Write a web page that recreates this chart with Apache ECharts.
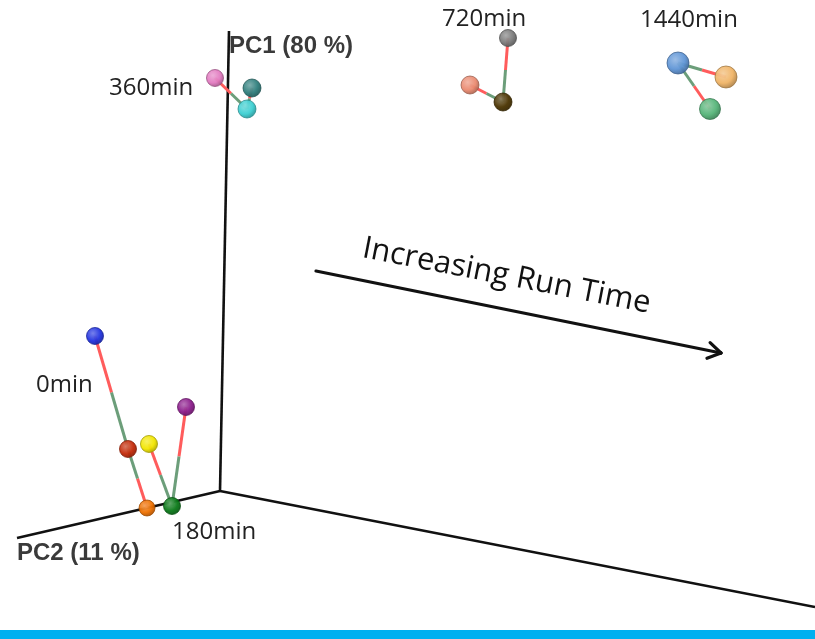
<!DOCTYPE html>
<html>
<head>
<meta charset="utf-8">
<script src="https://cdn.jsdelivr.net/npm/echarts@6/dist/echarts.min.js"></script>
<style>
html,body{margin:0;padding:0;background:#fff;}
#chart{width:815px;height:639px;}
</style>
</head>
<body>
<div id="chart"></div>
<script>
// ---- data (projected PCoA positions) ----
const sampleNames = ['0min-1','0min-2','180min-3','180min-4','180min-5','180min-6',
  '360min-1','360min-2','360min-3','720min-1','720min-2','720min-3','1440min-1','1440min-2','1440min-3'];
const sampleX = [95,128,149,186,147,172,215,252,247,508,470,503,678,726,710];
const sampleY = [336,449,444,407,508,506,78,88,109,38,85,102,63,77,109];
const sampleSize = [17,17,17,17,16,17,17,18,18,17,18,18,22,22,21];
// links: [red end, green end]
const links = [[0,1],[4,1],[2,5],[3,5],[6,8],[7,8],[9,11],[10,11],[13,12],[14,12]];
const groupLabels = ['0min','180min','360min','720min','1440min'];
const axisNames = ['PC1 (80 %)','PC2 (11 %)'];
const axisOrigin = [220,491];
const axisEnds = [[229,31],[17,538],[815,607]];
const arrowPath = [[316,271],[721,353]];
const arrowText = 'Increasing Run Time';

const colors = ['#2233e0','#c42a08','#f2e600','#8c1c8c','#ee7000','#0a7a18',
  '#e27ac0','#2e7e7c','#3ccfd2','#7a7a7a','#ea8a70','#4a3300','#5f95d6','#f0b466','#55b478'];

function lighten(hex, t){
  const n=parseInt(hex.slice(1),16);let r=n>>16,g=(n>>8)&255,b=n&255;
  r=Math.round(r+(255-r)*t);g=Math.round(g+(255-g)*t);b=Math.round(b+(255-b)*t);
  return 'rgb('+r+','+g+','+b+')';
}
function darken(hex, t){
  const n=parseInt(hex.slice(1),16);let r=n>>16,g=(n>>8)&255,b=n&255;
  r=Math.round(r*(1-t));g=Math.round(g*(1-t));b=Math.round(b*(1-t));
  return 'rgb('+r+','+g+','+b+')';
}

const pts = sampleX.map((x,i)=>[x,sampleY[i]]);
const linkSegs = [];
links.forEach(([a,b])=>{
  const m=[(pts[a][0]+pts[b][0])/2,(pts[a][1]+pts[b][1])/2];
  linkSegs.push({coords:[pts[a],m],lineStyle:{color:'#ff5c5c'}});
  linkSegs.push({coords:[m,pts[b]],lineStyle:{color:'#6c9e7a'}});
});
const axisSegs = axisEnds.map(e=>({coords:[axisOrigin,e]}));

// arrow shaft + open chevron head derived from the arrow path
const [a0,a1] = arrowPath;
const ang = Math.atan2(a1[1]-a0[1], a1[0]-a0[0]);
const headLen = 15, headAng = 32*Math.PI/180;
const wing = s => [a1[0]-headLen*Math.cos(ang+s*headAng), a1[1]-headLen*Math.sin(ang+s*headAng)];
const arrowSegs = [{coords:[a0,a1]},{coords:[wing(1),a1]},{coords:[wing(-1),a1]}];

const chart = echarts.init(document.getElementById('chart'));
chart.setOption({
  animation:false,
  backgroundColor:'#fff',
  grid:{left:0,right:0,top:0,bottom:0},
  xAxis:{type:'value',min:0,max:815,show:false},
  yAxis:{type:'value',min:0,max:639,inverse:true,show:false},
  series:[
    {type:'lines',coordinateSystem:'cartesian2d',z:1,
     lineStyle:{color:'#111',width:2.6,opacity:1},data:axisSegs},
    {type:'lines',coordinateSystem:'cartesian2d',z:2,
     lineStyle:{color:'#111',width:3.2,opacity:1,cap:'round'},data:arrowSegs},
    {type:'lines',coordinateSystem:'cartesian2d',z:3,
     lineStyle:{width:3,opacity:1},data:linkSegs},
    {type:'scatter',z:4,
     data:pts.map((p,i)=>({name:sampleNames[i],value:p,symbolSize:sampleSize[i],
       itemStyle:{color:{type:'radial',x:0.38,y:0.35,r:0.7,colorStops:[
         {offset:0,color:lighten(colors[i],0.35)},{offset:0.6,color:colors[i]},{offset:1,color:darken(colors[i],0.3)}]},
         borderColor:darken(colors[i],0.35),borderWidth:0.8,opacity:0.95}}))}
  ],
  graphic:[
    {type:'rect',shape:{x:0,y:630,width:815,height:9},style:{fill:'#00b0f0'},z:10},
    {type:'text',x:36,y:385,style:{text:groupLabels[0],font:'24px "Open Sans"',fill:'#222',verticalAlign:'middle'}},
    {type:'text',x:172,y:532,style:{text:groupLabels[1],font:'24px "Open Sans"',fill:'#222',verticalAlign:'middle'}},
    {type:'text',x:109,y:88,style:{text:groupLabels[2],font:'24px "Open Sans"',fill:'#222',verticalAlign:'middle'}},
    {type:'text',x:442,y:19,style:{text:groupLabels[3],font:'24px "Open Sans"',fill:'#222',verticalAlign:'middle'}},
    {type:'text',x:640,y:20,style:{text:groupLabels[4],font:'24px "Open Sans"',fill:'#222',verticalAlign:'middle'}},
    {type:'text',x:229,y:46,style:{text:axisNames[0],font:'bold 24px "Liberation Sans"',fill:'#3a3a3a',verticalAlign:'middle'}},
    {type:'text',x:17,y:553,style:{text:axisNames[1],font:'bold 24px "Liberation Sans"',fill:'#3a3a3a',verticalAlign:'middle'}},
    {type:'text',x:366,y:233,rotation:-11*Math.PI/180,style:{text:arrowText,font:'31px "Open Sans"',fill:'#111'}}
  ]
});
</script>
</body>
</html>
